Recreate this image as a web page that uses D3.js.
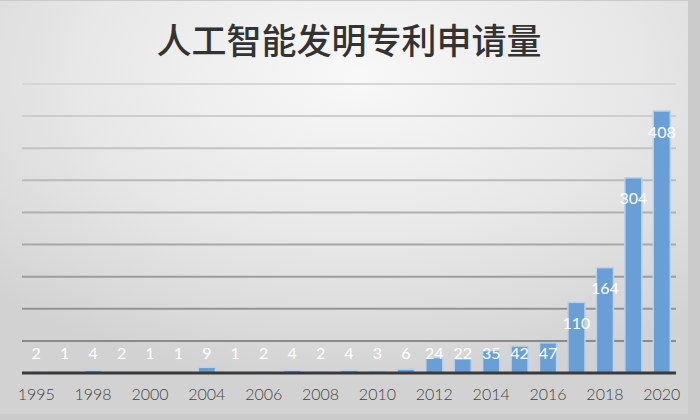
<!DOCTYPE html>
<html>
<head>
<meta charset="utf-8">
<script src="https://cdn.jsdelivr.net/npm/d3@7"></script>
<style>
  html, body { margin: 0; padding: 0; background: #cfcfcf; }
  #container { width: 700px; height: 420px; }
</style>
</head>
<body>
<div id="container"></div>
<script>
// data
let years = ['1995', '1997', '1998', '1999', '2000', '2002', '2004', '2005', '2006', '2007', '2008', '2009',
             '2010', '2011', '2012', '2013', '2014', '2015', '2016', '2017', '2018', '2019', '2020'];
let counts = [2, 1, 4, 2, 1, 1, 9, 1, 2, 4, 2, 4, 3, 6, 24, 22, 35, 42, 47, 110, 164, 304, 408];
let tickYears = ['1995', '1998', '2000', '2004', '2006', '2008', '2010', '2012', '2014', '2016', '2018', '2020'];
let gridValues = [50, 100, 150, 200, 250, 300, 350, 400, 450];
let title = '人工智能发明专利申请量';

let w = 700,
    h = 420;

let viz = d3.select('#container')
    .append('svg')
      .attr('width', w)
      .attr('height', h)
      .style('display', 'block')
;

function main() {
    let defs = viz.append('defs');
    let bg = defs.append('radialGradient')
        .attr('id', 'bg')
        .attr('cx', '52%')
        .attr('cy', '18%')
        .attr('r', '75%');
    bg.append('stop').attr('offset', '0%').attr('stop-color', '#f8f8f8');
    bg.append('stop').attr('offset', '55%').attr('stop-color', '#e7e7e7');
    bg.append('stop').attr('offset', '100%').attr('stop-color', '#d2d2d2');

    // slide background
    viz.append('rect')
        .attr('width', w)
        .attr('height', h)
        .attr('fill', '#cbcbcb');
    viz.append('rect')
        .attr('x', 0)
        .attr('y', 1)
        .attr('width', 688)
        .attr('height', 413)
        .attr('fill', 'url(#bg)');

    let x = d3.scaleBand()
        .domain(years)
        .range([22, 676])
        .paddingInner(0.4)
        .paddingOuter(0.2);

    let y = d3.scaleLinear()
        .domain([0, 450])
        .range([373, 84]);

    let gridColor = d3.scaleLinear()
        .domain([50, 450])
        .range(['#8a8a8a', '#d6d6d6']);

    // gridlines
    viz.append('g')
        .attr('class', 'grid')
      .selectAll('line')
      .data(gridValues)
      .enter()
      .append('line')
        .attr('x1', 22)
        .attr('x2', 676)
        .attr('y1', d => y(d))
        .attr('y2', d => y(d))
        .style('stroke', d => gridColor(d))
        .style('stroke-width', 2);

    // bars
    viz.append('g')
        .attr('class', 'bars')
      .selectAll('rect')
      .data(counts)
      .enter()
      .append('rect')
        .attr('x', (d, i) => x(years[i]))
        .attr('y', d => y(d))
        .attr('width', x.bandwidth())
        .attr('height', d => y(0) - y(d))
        .style('fill', '#6a9fd5')
        .style('stroke', '#b9d3ee')
        .style('stroke-width', 1.5);

    // value labels
    viz.append('g')
        .attr('font-family', 'Lato, "DejaVu Sans", sans-serif')
        .attr('font-size', 16)
        .attr('fill', 'white')
        .attr('text-anchor', 'middle')
      .selectAll('text')
      .data(counts)
      .enter()
      .append('text')
        .attr('x', (d, i) => x(years[i]) + x.bandwidth() / 2)
        .attr('y', d => Math.min(y(d) + 21, 353))
        .attr('dy', '0.35em')
        .text(d => d);

    // baseline + year labels
    let xAxis = d3.axisBottom(x)
        .tickValues(tickYears)
        .tickSize(0)
        .tickPadding(16);

    let axis = viz.append('g')
        .attr('transform', 'translate(0,' + y(0) + ')')
        .call(xAxis);
    axis.select('.domain')
        .attr('d', 'M22,0H676')
        .style('stroke', '#3a3a3a')
        .style('stroke-width', 3);
    axis.selectAll('text')
        .attr('font-family', 'Lato, "DejaVu Sans", sans-serif')
        .attr('font-weight', 300)
        .attr('font-size', 16)
        .attr('fill', '#444');

    viz.append('text')
        .attr('x', 349)
        .attr('y', 54)
        .attr('text-anchor', 'middle')
        .attr('font-family', '"Noto Sans CJK SC", sans-serif')
        .attr('font-weight', 500)
        .attr('font-size', 35)
        .attr('fill', '#333')
        .text(title);
}

main();
</script>
</body>
</html>
